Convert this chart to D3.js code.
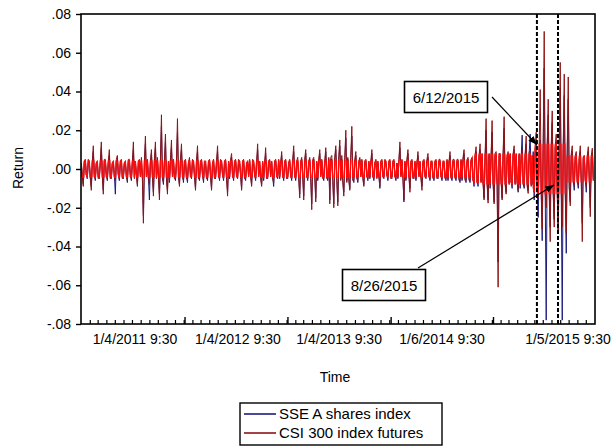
<!DOCTYPE html>
<html>
<head>
<meta charset="utf-8">
<script src="https://cdn.jsdelivr.net/npm/d3@7"></script>
<style>
  body { margin: 0; background: #fff; }
  text { font-family: "Liberation Sans", Arial, sans-serif; fill: #000; }
</style>
</head>
<body>
<div id="chart"></div>
<script>
// returns in per mille, one value per step from firstObs to lastObs
var csiReturns = [
  3,-4,-9,4,5,-3,-4,5,4,-5,-11,4,12,-4,-5,3,
  4,-5,-4,4,14,-4,-13,5,5,-4,-5,4,10,-5,-4,3,
  4,-4,-6,5,7,-3,-5,4,5,-5,-4,3,4,-4,-6,5,
  5,-4,-5,4,14,-5,4,-3,-9,4,5,-4,6,-5,-28,4,
  17,-4,5,-5,-8,4,10,-4,-14,5,14,-5,6,-4,-16,5,
  28,-5,-7,4,18,-5,-13,4,-6,5,15,-4,5,-5,-5,4,
  26,-4,-9,5,13,-4,-6,4,5,-5,-5,3,6,-4,-4,5,
  4,-4,-11,4,12,-5,-5,4,5,-3,-6,4,4,-5,-5,4,
  5,-4,-11,3,5,-5,-4,4,12,-4,-5,5,4,-3,-5,4,
  5,-5,-14,4,-4,5,8,-4,-5,4,5,-4,-4,5,4,-3,
  -11,4,5,-5,-5,3,4,-4,5,-4,-9,5,4,-3,-5,4,
  13,-4,4,-5,-9,4,-5,3,11,-5,-4,4,5,-4,4,-5,
  -7,4,5,-4,-4,5,-4,3,9,-4,-5,4,5,-5,-4,3,
  5,-4,-5,5,12,-4,-5,4,6,-5,-15,4,6,-4,-16,5,
  10,-4,-5,4,6,-5,-21,5,6,-4,-17,4,-5,5,10,-4,
  5,-5,-5,4,11,-5,-5,6,-18,6,7,-6,-20,6,12,-6,
  -19,7,15,-6,7,-7,-14,6,20,-7,6,-6,-11,7,22,-6,
  -6,5,9,-5,-6,4,6,-4,5,-5,-9,4,5,-4,-5,4,
  -4,4,10,-4,-5,3,5,-5,4,-4,-9,4,5,-4,-4,5,
  4,-3,-5,4,5,-5,-4,4,5,-4,-5,3,-4,5,14,-4,
  5,-5,-16,4,-5,5,10,-4,-12,4,5,-5,-4,4,-5,3,
  9,-4,4,-5,-11,4,5,-4,-4,5,8,-4,-5,4,4,-5,
  -5,4,5,-5,-4,5,5,-4,-5,4,4,-5,-5,5,-5,4,
  9,-5,-5,5,5,-5,-5,5,5,-6,-6,5,-5,6,10,-6,
  -6,5,6,-6,-6,5,6,-6,-7,7,11.5,-7,-7,7,13,-7,
  8,-8,-16,7,26,-8,-17.6,8,-8,7,25,-8,-18,8,9,-8,
  -61,8,8,-7,-16,8,27,-8,-13,7,9,-8,8,-7,-8,8,
  12,-8,8,-7,-11,8,-8,7,10,-8,-9,8,17,-9,-12.6,9,
  9,-9,7,-10,-12,11,19,-11,-15,12,41,-12,-31,13,71,-13,
  -20,13,36,-13,-37.5,12,30,-13,-30,12,18,-13,-33,12,55,-12,
  -30,12,49,-12,-33,11,47.5,-10,-19,8,12,-7,-8,7,9,-7,
  -8,6,12,-7,-37.5,6,7,-6,-9,7,11.5,-6,-24.6,7,10.7,-6
];
var sseReturns = [
  2,-3,-8,3,4,-3,-5,3,3,-4,-9,3,9,-3,-6,3,
  3,-4,-5,3,11,-3,-11,4,4,-3,-6,3,7,-4,-5,3,
  3,-3,-13,4,5,-3,-6,3,4,-4,-5,3,3,-3,-7,4,
  4,-3,-6,3,10,-4,3,-3,-8,3,4,-3,4,-4,-24,3,
  13,-3,4,-4,-16,3,8,-3,-12,4,11,-4,4,-3,-13,4,
  22,-4,-8,3,14,-4,-11,3,-7,4,11,-3,4,-4,-6,3,
  19,-3,-8,4,10,-3,-7,3,4,-4,-7,3,4,-3,-5,4,
  3,-3,-10,3,9,-4,-6,3,4,-3,-7,3,3,-4,-6,3,
  4,-3,-10,3,4,-4,-5,3,9,-3,-6,4,3,-3,-6,3,
  4,-4,-12,3,-5,4,6,-3,-6,3,4,-3,-5,4,3,-3,
  -10,3,4,-4,-6,3,3,-3,4,-3,-8,4,3,-3,-6,3,
  10,-3,3,-4,-8,3,-6,3,8,-4,-5,3,4,-3,3,-4,
  -9,3,4,-3,-5,4,-5,3,7,-3,-6,3,4,-4,-5,3,
  4,-3,-6,4,9,-3,-6,3,4,-4,-13,3,5,-3,-14,4,
  8,-3,-6,3,5,-4,-18,4,5,-3,-15,3,-6,4,8,-3,
  4,-4,-6,3,9,-4,-6,5,-16,5,5,-5,-18,5,10,-5,
  -17,5,12,-5,5,-6,-12,5,16,-6,5,-5,-10,6,17,-5,
  -7,4,7,-4,-7,3,5,-3,4,-4,-8,3,4,-3,-6,3,
  -5,3,8,-3,-6,3,4,-4,3,-3,-10,3,4,-3,-5,4,
  3,-3,-6,3,4,-4,-5,3,4,-3,-6,3,-5,4,11,-3,
  4,-4,-17,3,-6,4,8,-3,-10,3,4,-4,-5,3,-6,3,
  7,-3,3,-4,-9,3,4,-3,-5,4,6,-3,-6,3,3,-4,
  -6,3,4,-4,-5,4,4,-3,-6,3,3,-4,-6,4,-6,3,
  7,-4,-6,4,4,-4,-6,4,4,-5,-7,4,-6,5,8,-5,
  -7,4,5,-5,-7,4,5,-5,-9,6,9,-6,-9,6,10,-6,
  6,-7,-15,6,20,-7,-16,7,-10,6,19,-7,-17,7,7,-7,
  -48,7,7,-6,-15,7,21,-7,-12,6,7,-7,7,-6,-10,7,
  10,-7,6,-6,-12,7,-10,6,17.5,-7,-10,7,13,-8,-11,8,
  18,-8,-8,9,-16,10,14,-10,-25,11,15,-11,-37,12,52,-12,
  -78,12,28,-12,-30,11,24,-12,-26,11,14,-12,-33,11,42,-11,
  -78,11,38,-11,-43.5,10,36,-9,-17,7,9,-6,-11,6,7,-6,
  -10,5,9,-6,-28,5,6,-5,-12,6,9,-5,-20,6,8,-5
];
var firstObs = "2010-12-31", lastObs = "2015-12-26";

var yTicks = [0.08, 0.06, 0.04, 0.02, 0, -0.02, -0.04, -0.06, -0.08];
var yTickLabels = [".08", ".06", ".04", ".02", ".00", "-.02", "-.04", "-.06", "-.08"];
var xTickDates = ["2011-01-04", "2012-01-04", "2013-01-04", "2014-01-06", "2015-01-05"];
var xTickLabels = ["1/4/2011 9:30", "1/4/2012 9:30", "1/4/2013 9:30", "1/6/2014 9:30", "1/5/2015 9:30"];
var xLabelDates = ["2011-07-10", "2012-07-10", "2013-07-05", "2014-07-06", "2015-09-27"];

var eventDates = ["2015-06-12", "2015-08-26"];
var eventLabels = ["6/12/2015", "8/26/2015"];
var eventValues = [0.0125, -0.0082];

var seriesNames = ["SSE A shares index", "CSI 300 index futures"];
var seriesColors = ["#1c1c80", "#8e1414"];

var W = 615, H = 446;
var pLeft = 81, pRight = 595, pTop = 14, pBottom = 324;
var parse = d3.timeParse("%Y-%m-%d");

var svg = d3.select("#chart").append("svg")
    .attr("width", W).attr("height", H);

var x = d3.scaleTime()
    .domain([parse("2010-12-30"), parse("2016-01-01")])
    .range([pLeft, pRight]);
var y = d3.scaleLinear().domain([-0.08, 0.08]).range([pBottom, pTop]);

var t0 = parse(firstObs).getTime(), t1 = parse(lastObs).getTime();
function toPoints(arr) {
  var step = (t1 - t0) / (arr.length - 1);
  return arr.map(function(v, i) { return { date: new Date(t0 + i * step), value: v / 1000 }; });
}
var sse = toPoints(sseReturns);
var csi = toPoints(csiReturns);

var line = d3.line()
    .x(function(d) { return x(d.date); })
    .y(function(d) { return y(d.value); });

// clip for the saturated core of the futures band
var defs = svg.append("defs");
var core = defs.append("clipPath").attr("id", "core");
[["2010-12-30", "2016-01-01", 0.0045],
 ["2014-10-20", "2015-05-25", 0.008],
 ["2015-05-25", "2015-09-20", 0.013],
 ["2015-09-20", "2016-01-01", 0.007]].forEach(function(b) {
  core.append("rect")
    .attr("x", x(parse(b[0]))).attr("width", x(parse(b[1])) - x(parse(b[0])))
    .attr("y", y(b[2])).attr("height", y(-b[2]) - y(b[2]));
});
defs.append("clipPath").attr("id", "plot").append("rect")
    .attr("x", pLeft).attr("y", pTop).attr("width", pRight - pLeft).attr("height", pBottom - pTop);

defs.append("marker").attr("id", "arrow")
    .attr("viewBox", "0 0 10 8").attr("refX", 10).attr("refY", 4)
    .attr("markerWidth", 9).attr("markerHeight", 7).attr("markerUnits", "userSpaceOnUse")
    .attr("orient", "auto")
  .append("path").attr("d", "M0,0L10,4L0,8z").attr("fill", "#000");

var g = svg.append("g").attr("clip-path", "url(#plot)");

g.append("path").datum(sse)
    .attr("d", line).attr("fill", "none")
    .attr("stroke", seriesColors[0]).attr("stroke-width", 1);
g.append("path").datum(csi)
    .attr("d", line).attr("fill", "none")
    .attr("stroke", seriesColors[1]).attr("stroke-width", 1);
g.append("path").datum(csi)
    .attr("d", line).attr("fill", "none").attr("clip-path", "url(#core)")
    .attr("stroke", "#ff0a0a").attr("stroke-width", 1.3);

// event lines
eventDates.forEach(function(d) {
  svg.append("line")
    .attr("x1", x(parse(d)) - 1).attr("x2", x(parse(d)) - 1)
    .attr("y1", pTop).attr("y2", pBottom)
    .attr("stroke", "#000").attr("stroke-width", 2)
    .attr("stroke-dasharray", "4,2");
});

// frame
svg.append("rect")
    .attr("x", pLeft).attr("y", pTop).attr("width", pRight - pLeft).attr("height", pBottom - pTop)
    .attr("fill", "none").attr("stroke", "#000").attr("stroke-width", 1.6);

// y axis
var yAxis = svg.append("g").attr("transform", "translate(" + pLeft + ",0)")
    .call(d3.axisLeft(y).tickValues(yTicks).tickSize(5).tickPadding(5)
      .tickFormat(function(d, i) { return yTickLabels[i]; }));
yAxis.select(".domain").remove();
yAxis.selectAll("line").attr("stroke-width", 1.4);
yAxis.selectAll("text").style("font-size", "14px").style("font-family", "Liberation Sans, Arial, sans-serif");

// x axis: monthly minor ticks inside the frame, year ticks longer
var months = d3.timeMonth.range(parse("2011-02-01"), parse("2016-01-01"));
svg.append("g").selectAll("line").data(months).enter().append("line")
    .attr("x1", function(d) { return x(d); }).attr("x2", function(d) { return x(d); })
    .attr("y1", pBottom).attr("y2", pBottom - 4)
    .attr("stroke", "#000").attr("stroke-width", 1.2);
svg.append("g").selectAll("line").data(xTickDates.slice(1)).enter().append("line")
    .attr("x1", function(d) { return x(parse(d)); }).attr("x2", function(d) { return x(parse(d)); })
    .attr("y1", pBottom).attr("y2", pBottom - 7)
    .attr("stroke", "#000").attr("stroke-width", 1.4);

svg.append("g").selectAll("text").data(xLabelDates).enter().append("text")
    .attr("x", function(d) { return x(parse(d)); })
    .attr("y", pBottom + 20)
    .attr("text-anchor", "middle")
    .style("font-size", "14px")
    .text(function(d, i) { return xTickLabels[i]; });

svg.append("text")
    .attr("x", 335).attr("y", 382)
    .attr("text-anchor", "middle").style("font-size", "14px")
    .text("Time");
svg.append("text")
    .attr("transform", "translate(23,168) rotate(-90)")
    .attr("text-anchor", "middle").style("font-size", "14px")
    .text("Return");

// annotation boxes and arrows
var boxes = [{ cx: 446, cy: 97, sx: 492, sy: 97, dx: -1 },
             { cx: 384, cy: 285, sx: 418, sy: 268, dx: -5 }];
eventDates.forEach(function(d, i) {
  var b = boxes[i];
  svg.append("rect")
    .attr("x", b.cx - 41.5).attr("y", b.cy - 15.5).attr("width", 83).attr("height", 31)
    .attr("fill", "#fff").attr("stroke", "#000").attr("stroke-width", 1.6);
  svg.append("text")
    .attr("x", b.cx).attr("y", b.cy + 5.5)
    .attr("text-anchor", "middle").style("font-size", "15px")
    .text(eventLabels[i]);
  svg.append("line")
    .attr("x1", b.sx).attr("y1", b.sy)
    .attr("x2", x(parse(d)) + b.dx).attr("y2", y(eventValues[i]))
    .attr("stroke", "#000").attr("stroke-width", 1.2)
    .attr("marker-end", "url(#arrow)");
});

// legend
var lg = svg.append("g").attr("transform", "translate(240,403)");
lg.append("rect").attr("width", 202).attr("height", 42)
    .attr("fill", "#fff").attr("stroke", "#000").attr("stroke-width", 1.4);
seriesNames.forEach(function(name, i) {
  lg.append("line")
    .attr("x1", 4).attr("x2", 36).attr("y1", 11 + i * 19).attr("y2", 11 + i * 19)
    .attr("stroke", seriesColors[i]).attr("stroke-width", 1.6);
  lg.append("text")
    .attr("x", 39).attr("y", 16 + i * 19)
    .style("font-size", "15px")
    .text(name);
});
</script>
</body>
</html>
